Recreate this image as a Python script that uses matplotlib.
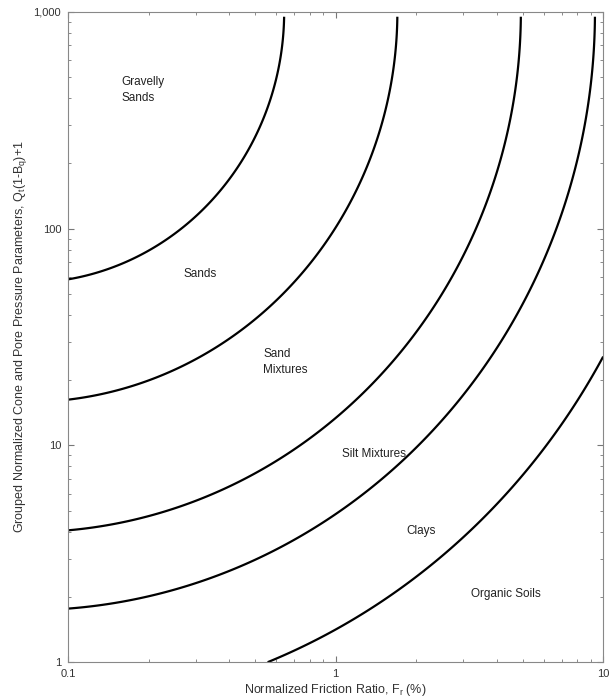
import numpy as np
import matplotlib.pyplot as plt
from matplotlib.ticker import FixedLocator, NullFormatter, FuncFormatter

plt.rcParams["font.family"] = ["Liberation Sans", "DejaVu Sans"]
plt.rcParams["mathtext.default"] = "regular"

# soil behaviour type index boundaries (Jefferies & Been)
ic_bounds = [1.25, 1.80, 2.40, 2.76, 3.22]

zone_names = ["Gravelly\nSands", "Sands", "Sand\nMixtures", "Silt Mixtures", "Clays", "Organic Soils"]
zone_fr = [0.158, 0.311, 0.536, 1.39, 2.09, 4.31]
zone_q = [437, 61.8, 24.3, 9.12, 4.03, 2.06]
zone_ha = ["left", "center", "left", "center", "center", "center"]

fig = plt.figure(figsize=(6.13, 7.0), dpi=100)
ax = fig.add_axes([0.111, 0.054, 0.873, 0.929])

fr = np.logspace(-1, 1, 600)
q = np.logspace(0, np.log10(950), 600)
FR, Q = np.meshgrid(fr, q)
IC = np.sqrt((3 - np.log10(Q)) ** 2 + (1.5 + 1.3 * np.log10(FR)) ** 2)
ax.contour(FR, Q, IC, levels=ic_bounds, colors="black", linewidths=1.6)

for name, x, y, ha in zip(zone_names, zone_fr, zone_q, zone_ha):
    ax.text(x, y, name, ha=ha, va="center", fontsize=8.5, color="#222222", linespacing=1.4)

ax.set_xscale("log")
ax.set_yscale("log")
ax.set_xlim(0.1, 10)
ax.set_ylim(1, 1000)

ax.xaxis.set_major_locator(FixedLocator([0.1, 1, 10]))
ax.xaxis.set_major_formatter(FuncFormatter(lambda v, p: f"{v:g}"))
ax.yaxis.set_major_locator(FixedLocator([1, 10, 100, 1000]))
ax.yaxis.set_major_formatter(FuncFormatter(lambda v, p: f"{v:,.0f}"))
ax.xaxis.set_minor_formatter(NullFormatter())
ax.yaxis.set_minor_formatter(NullFormatter())

ax.tick_params(which="both", direction="in", top=True, right=True,
               color="#777777", labelcolor="#333333", labelsize=8)
ax.tick_params(which="major", length=4, pad=5)
ax.tick_params(which="minor", length=2.5)
for sp in ax.spines.values():
    sp.set_color("#888888")
    sp.set_linewidth(0.8)

ax.set_xlabel("Normalized Friction Ratio, F$_r$ (%)", fontsize=9, color="#333333", labelpad=2)
ax.set_ylabel("Grouped Normalized Cone and Pore Pressure Parameters, Q$_t$(1-B$_q$)+1",
              fontsize=9, color="#333333", labelpad=3)

fig.savefig("out.png", dpi=100)
